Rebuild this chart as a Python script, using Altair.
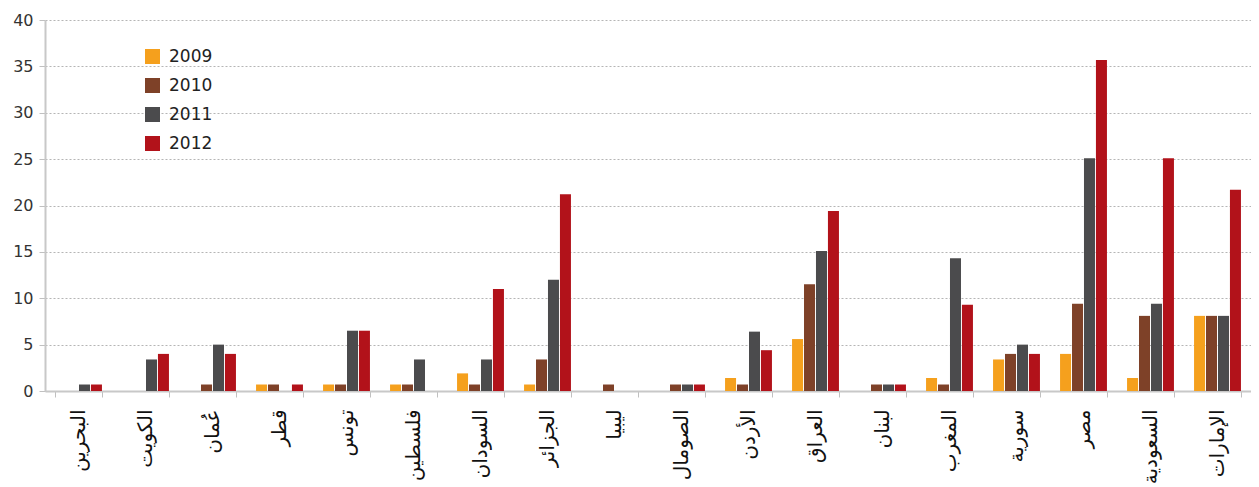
import altair as alt
import pandas as pd

countries = ["البحرين", "الكويت", "عُمان", "قطر", "تونس", "فلسطين", "السودان", "الجزائر", "ليبيا",
             "الصومال", "الأردن", "العراق", "لبنان", "المغرب", "سورية", "مصر", "السعودية", "الإمارات"]
years = ["2009", "2010", "2011", "2012"]
v2009 = [0, 0, 0, 0.7, 0.7, 0.7, 1.9, 0.7, 0, 0, 1.4, 5.6, 0, 1.4, 3.4, 4.0, 1.4, 8.1]
v2010 = [0, 0, 0.7, 0.7, 0.7, 0.7, 0.7, 3.4, 0.7, 0.7, 0.7, 11.5, 0.7, 0.7, 4.0, 9.4, 8.1, 8.1]
v2011 = [0.7, 3.4, 5.0, 0, 6.5, 3.4, 3.4, 12.0, 0, 0.7, 6.4, 15.1, 0.7, 14.3, 5.0, 25.1, 9.4, 8.1]
v2012 = [0.7, 4.0, 4.0, 0.7, 6.5, 0, 11.0, 21.2, 0, 0.7, 4.4, 19.4, 0.7, 9.3, 4.0, 35.7, 25.1, 21.7]
colors = ["#F5A01D", "#7E4128", "#4B4B4D", "#B2121A"]

rows = []
for yr, vals in zip(years, [v2009, v2010, v2011, v2012]):
    for c, v in zip(countries, vals):
        rows.append({"country": c, "year": yr, "value": v})
df = pd.DataFrame(rows)

chart = alt.Chart(df).mark_bar().encode(
    x=alt.X("country:N", sort=countries, title=None,
            scale=alt.Scale(paddingInner=0.3, paddingOuter=0.15),
            axis=alt.Axis(labelAngle=270, labelFontSize=20, labelFont="DejaVu Sans",
                          labelColor="#111111", labelPadding=12, tickBand="extent",
                          tickSize=6, tickColor="#c0c0c0", domainColor="#c8c8c8",
                          domainWidth=2, grid=False)),
    xOffset=alt.XOffset("year:N", sort=years, scale=alt.Scale(paddingInner=0.08)),
    y=alt.Y("value:Q", title=None,
            scale=alt.Scale(domain=[0, 40], nice=False),
            axis=alt.Axis(values=list(range(0, 41, 5)), labelFontSize=16, labelFont="DejaVu Sans",
                          labelColor="#333333", tickSize=6, labelPadding=6,
                          tickColor="#c0c0c0", domainColor="#c8c8c8", domainWidth=2,
                          gridColor="#b5b5b5", gridDash=[2, 2], gridWidth=1)),
    color=alt.Color("year:N", sort=years, title=None,
                    scale=alt.Scale(domain=years, range=colors),
                    legend=alt.Legend(orient="none", legendX=99, legendY=28,
                                      symbolType="square", symbolSize=225,
                                      symbolStrokeWidth=0, labelFontSize=17,
                                      labelFont="DejaVu Sans", labelColor="#222222",
                                      labelOffset=8, rowPadding=11, padding=0)),
).properties(
    width=1206, height=371,
    autosize=alt.AutoSizeParams(type="none"),
    padding={"left": 37, "top": 12, "right": 0, "bottom": 96},
).configure_view(stroke=None)

chart.save("out.html", embed_options={"renderer": "svg", "actions": False})
